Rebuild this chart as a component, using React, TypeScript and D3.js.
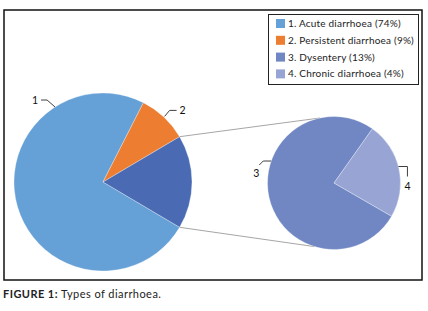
import React from "react";
import * as d3 from "d3";

const categories = ["1. Acute diarrhoea", "2. Persistent diarrhoea", "3. Dysentery", "4. Chronic diarrhoea"];
const percents = [74, 9, 13, 4];
const sliceLabels = ["1", "2", "3", "4"];
const legendColors = ["#65A0D6", "#ED7D31", "#7087C3", "#98A5D4"];
const otherColor = "#4A6BB3";
const caption = "Types of diarrhoea.";

const W = 428, H = 311;
const main = { cx: 103, cy: 182, r: 89 };
const sec = { cx: 334, cy: 183, r: 66.5 };
const deg = Math.PI / 180;

export default function App() {
  const primaryVals = [percents[0], percents[1], percents[2] + percents[3]];
  const total = d3.sum(primaryVals);
  const otherMidFrac = (primaryVals[0] + primaryVals[1] + primaryVals[2] / 2) / total;
  const start = Math.PI / 2 - otherMidFrac * 2 * Math.PI;
  const pie1 = d3.pie<number>().sort(null).startAngle(start).endAngle(start + 2 * Math.PI)(primaryVals);
  const arc1 = d3.arc<any>().innerRadius(0).outerRadius(main.r);
  const primaryColors = [legendColors[0], legendColors[1], otherColor];

  const secVals = [percents[2], percents[3]];
  const s2 = 120 * deg;
  const pie2 = d3.pie<number>().sort(null).startAngle(s2).endAngle(s2 + 2 * Math.PI)(secVals);
  const arc2 = d3.arc<any>().innerRadius(0).outerRadius(sec.r);
  const secColors = [legendColors[2], legendColors[3]];

  const pt = (c: { cx: number; cy: number; r: number }, a: number, rr = c.r) => [
    c.cx + rr * Math.sin(a),
    c.cy - rr * Math.cos(a),
  ];

  const other = pie1[2];
  const a0 = pt(main, other.startAngle);
  const a1 = pt(main, other.endAngle);
  const b0 = pt(sec, -12 * deg);
  const b1 = pt(sec, 197 * deg);

  const p1 = pt(main, -32.6 * deg);
  const p2 = pt(main, (pie1[1].startAngle + pie1[1].endAngle) / 2, main.r + 1);
  const p3 = pt(sec, -70.7 * deg);
  const p4 = pt(sec, (pie2[1].startAngle + pie2[1].endAngle) / 2 - 2 * deg);

  const font = "Lato, 'Liberation Sans', sans-serif";
  const leader = { stroke: "#404040", strokeWidth: 1, fill: "none" };

  return (
    <div style={{ position: "absolute", left: 0, top: 0 }}>
      <svg width={W} height={H} style={{ display: "block", background: "#fff" }}>
        <rect x={4} y={10} width={418} height={270} fill="#fff" stroke="#111" strokeWidth={1.5} />
        <line x1={a0[0]} y1={a0[1]} x2={b0[0]} y2={b0[1]} stroke="#a6a6a6" strokeWidth={1} />
        <line x1={a1[0]} y1={a1[1]} x2={b1[0]} y2={b1[1]} stroke="#a6a6a6" strokeWidth={1} />
        <g transform={`translate(${main.cx},${main.cy})`}>
          {pie1.map((d, i) => (
            <path key={i} d={arc1(d) as string} fill={primaryColors[i]} stroke="#fff" strokeWidth={0.5} strokeOpacity={0.6} />
          ))}
        </g>
        <g transform={`translate(${sec.cx},${sec.cy})`}>
          {pie2.map((d, i) => (
            <path key={i} d={arc2(d) as string} fill={secColors[i]} stroke="#fff" strokeWidth={0.5} strokeOpacity={0.6} />
          ))}
        </g>
        <polyline points={`${p1[0]},${p1[1]} ${p1[0] - 8},${p1[1] - 7} ${p1[0] - 14},${p1[1] - 7}`} {...leader} />
        <text x={p1[0] - 17} y={p1[1] - 3.5} fontFamily={font} fontSize={10.5} textAnchor="end" fill="#111">{sliceLabels[0]}</text>
        <polyline points={`${p2[0]},${p2[1]} ${p2[0] + 5},${p2[1] - 6} ${p2[0] + 12},${p2[1] - 6}`} {...leader} />
        <text x={p2[0] + 15} y={p2[1] - 2.5} fontFamily={font} fontSize={10.5} textAnchor="start" fill="#111">{sliceLabels[1]}</text>
        <polyline points={`${p3[0]},${p3[1]} ${p3[0] - 8},${p3[1]} ${p3[0] - 12},${p3[1] + 4}`} {...leader} />
        <text x={p3[0] - 15} y={p3[1] + 15.5} fontFamily={font} fontSize={10.5} textAnchor="middle" fill="#111">{sliceLabels[2]}</text>
        <polyline points={`${p4[0]},${p4[1]} ${p4[0] + 9},${p4[1]} ${p4[0] + 9},${p4[1] + 10}`} {...leader} />
        <text x={p4[0] + 9} y={p4[1] + 23.5} fontFamily={font} fontSize={10.5} textAnchor="middle" fill="#111">{sliceLabels[3]}</text>
        <rect x={268.5} y={14.5} width={150} height={70} fill="#fff" stroke="#222" strokeWidth={1} />
        {categories.map((c, i) => (
          <g key={c} transform={`translate(276,${23.5 + i * 16.8})`}>
            <rect x={0} y={-4.5} width={9} height={9} fill={legendColors[i]} />
            <text x={12} y={3.4} fontFamily={font} fontSize={10} letterSpacing={0.2} fill="#222">{`${c} (${percents[i]}%)`}</text>
          </g>
        ))}
        <text x={3} y={297.5} fontFamily={font} fontSize={11} letterSpacing={0.45} fill="#222">
          <tspan fontWeight="bold">FIGURE 1:</tspan> {caption}
        </text>
      </svg>
    </div>
  );
}
